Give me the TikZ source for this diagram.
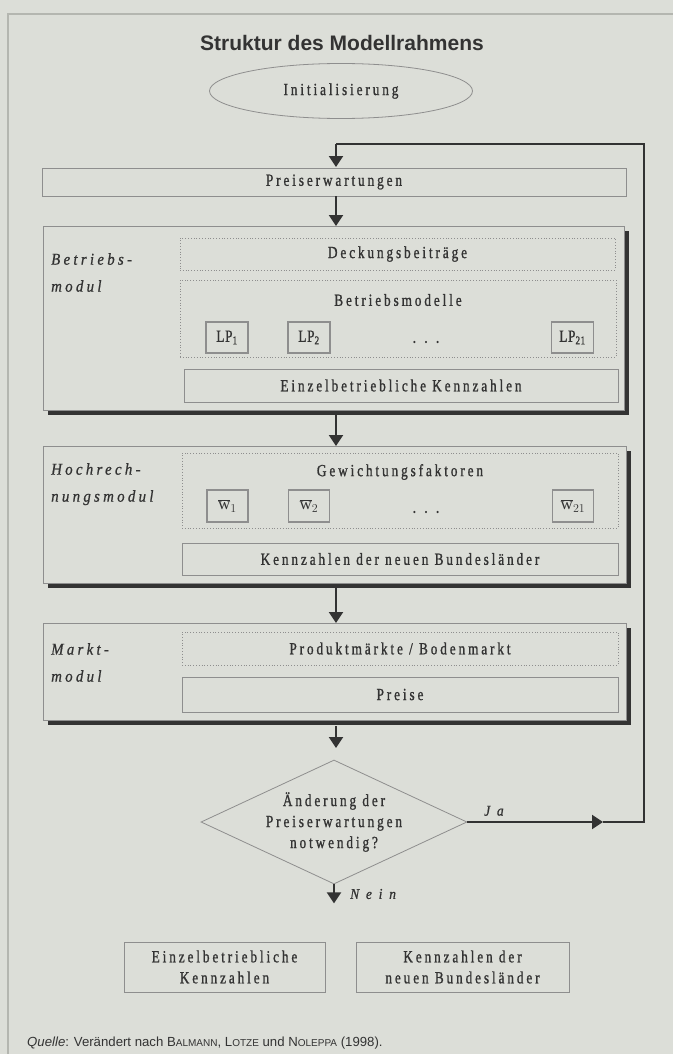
\documentclass[tikz,border=0pt]{standalone}
\usepackage{fontspec}
\setmainfont{Liberation Serif}
\newfontfamily\bodyf[FakeStretch=0.78, LetterSpace=17, FakeBold=1.1]{Liberation Serif}
\newfontfamily\labf[FakeStretch=0.9, FakeBold=0.8]{Liberation Serif}
\newfontfamily\sansf{Liberation Sans}
\usetikzlibrary{shapes.geometric,arrows.meta}
\definecolor{bg}{HTML}{DCDED8}
\definecolor{ink}{HTML}{333333}
\definecolor{edge}{HTML}{8E8E8E}
\definecolor{frame}{HTML}{B4B6B0}
\tikzset{
  txt/.style={font=\bodyf\fontsize{17}{21}\selectfont, text=ink},
  plain/.style={txt, draw=edge, line width=0.8pt, rectangle, inner sep=0pt},
  dotbox/.style={plain, dotted},
  modbox/.style={draw=edge, line width=0.8pt, fill=bg, rectangle, inner sep=0pt},
  shadowbox/.style={fill=ink, draw=none, rectangle, inner sep=0pt},
  flow/.style={draw=ink, line width=2pt, -{Triangle[width=14pt,length=11pt]}},
  loopline/.style={draw=ink, line width=2pt, line join=miter},
  modlabel/.style={font=\labf\itshape\fontsize{16.5}{27}\selectfont\addfontfeature{LetterSpace=20}, text=ink, align=left, anchor=north west, inner sep=0pt},
  smallbox/.style={txt, font=\bodyf\fontsize{17}{21}\selectfont\addfontfeature{LetterSpace=4}, draw=edge, line width=1.3pt, minimum width=42pt, minimum height=31pt, inner sep=0pt},
  spaced/.style={font=\labf\itshape\fontsize{15}{20}\selectfont\addfontfeature{LetterSpace=45}, text=ink, inner sep=0pt}
}
\begin{document}
\begin{tikzpicture}[x=1pt,y=-1pt]
\useasboundingbox[fill=bg] (0,0) rectangle (673,1054);
% frame
\draw[frame, line width=1.5pt] (8,1054) -- (8,14) -- (673,14);
% title
\node[font=\sansf\bfseries\fontsize{21}{24}\selectfont, text=ink] (title) at (342,43) {Struktur des Modellrahmens};
% init
\node[ellipse, draw=edge, line width=0.8pt, txt, minimum width=263pt, minimum height=55pt, inner sep=0pt] (init) at (341,91) {Initialisierung};
% Preiserwartungen
\node[plain, minimum width=584pt, minimum height=28pt] (preis) at (334,182) {Preiserwartungen};
% Betriebsmodul
\node[shadowbox, minimum width=581pt, minimum height=184pt] (bmsh) at (338.5,322.5) {};
\node[modbox, minimum width=581pt, minimum height=184pt] (bm) at (333.5,318) {};
\node[modlabel] (bml) at (51,253) {Betriebs-\\modul};
\node[dotbox, minimum width=435pt, minimum height=32pt] (db) at (397.5,254) {Deckungsbeitr\"age};
\node[dotbox, minimum width=436pt, minimum height=77pt] (bmod) at (398,318.5) {};
\node[txt] (bmodt) at (398,300) {Betriebsmodelle};
\node[smallbox] (lp1) at (227,337.5) {LP\textsubscript{1}};
\node[smallbox] (lp2) at (309,337.5) {LP\textsubscript{2}};
\node[txt] (lpdots) at (426,342) {. . .};
\node[smallbox] (lp21) at (572.5,337.5) {LP\textsubscript{21}};
\node[plain, minimum width=434pt, minimum height=33pt] (ebk) at (401,385.5) {Einzelbetriebliche Kennzahlen};
% Hochrechnungsmodul
\node[shadowbox, minimum width=583pt, minimum height=137pt] (hmsh) at (339.5,519) {};
\node[modbox, minimum width=583pt, minimum height=137pt] (hm) at (334.5,514.5) {};
\node[modlabel] (hml) at (51,463) {Hochrech-\\nungsmodul};
\node[dotbox, minimum width=436pt, minimum height=75pt] (gf) at (400,490.5) {};
\node[txt] (gft) at (400,472) {Gewichtungsfaktoren};
\node[smallbox, minimum width=41pt, minimum height=32pt] (w1) at (227.5,506) {$\overline{\mathrm{w}}_{1}$};
\node[smallbox, minimum width=41pt, minimum height=32pt] (w2) at (309,506) {$\overline{\mathrm{w}}_{2}$};
\node[txt] (wdots) at (426,512) {. . .};
\node[smallbox, minimum width=41pt, minimum height=32pt] (w21) at (573,506) {$\overline{\mathrm{w}}_{21}$};
\node[plain, minimum width=436pt, minimum height=32pt] (knb) at (400,559) {Kennzahlen der neuen Bundesl\"ander};
% Marktmodul
\node[shadowbox, minimum width=583pt, minimum height=97pt] (mmsh) at (339.5,676) {};
\node[modbox, minimum width=583pt, minimum height=97pt] (mm) at (334.5,671.5) {};
\node[modlabel] (mml) at (51,643) {Markt-\\modul};
\node[dotbox, minimum width=436pt, minimum height=33pt] (pm) at (400,648.5) {Produktm\"arkte / Bodenmarkt};
\node[plain, minimum width=436pt, minimum height=35pt] (preise) at (400,694.5) {Preise};
% decision
\node[diamond, aspect=2.145, draw=edge, line width=0.8pt, txt, align=center, minimum width=266pt, minimum height=124pt, inner sep=0pt] (dia) at (334,822) {\"Anderung der\\Preiserwartungen\\notwendig?};
% results
\node[plain, align=center, minimum width=201pt, minimum height=50pt] (res1) at (224.5,967) {Einzelbetriebliche\\Kennzahlen};
\node[plain, align=center, minimum width=213pt, minimum height=50pt] (res2) at (462.5,967) {Kennzahlen der\\neuen Bundesl\"ander};
% connectors
\coordinate (topM) at (336,144);
\coordinate (topR) at (644,144);
\coordinate (jaR) at (644,822);
\coordinate (jaA) at (603,822);
\draw[flow] (topM) -- (336,167);
\draw[flow] (336,196) -- (336,226);
\draw[flow] (336,415) -- (336,446);
\draw[flow] (336,588) -- (336,623);
\draw[flow] (336,726) -- (336,748);
\draw[flow] (dia.south) -- ([yshift=-19pt]dia.south);
\draw[flow] (dia.east) -- (jaA);
\draw[loopline] (jaA) -- (jaR) -- (topR) -- (topM);
\node[spaced, anchor=south west] (ja) at (484,816) {Ja};
\node[spaced, anchor=west] (nein) at (350,894) {Nein};
% source
\node[font=\sansf\fontsize{13.2}{15}\selectfont, text=ink, anchor=south west, inner sep=0pt] (src) at (27,1049) {\textit{Quelle}: Ver\"andert nach B{\fontsize{10}{12}\selectfont ALMANN}, L{\fontsize{10}{12}\selectfont OTZE} und N{\fontsize{10}{12}\selectfont OLEPPA} (1998).};
\end{tikzpicture}
\end{document}
